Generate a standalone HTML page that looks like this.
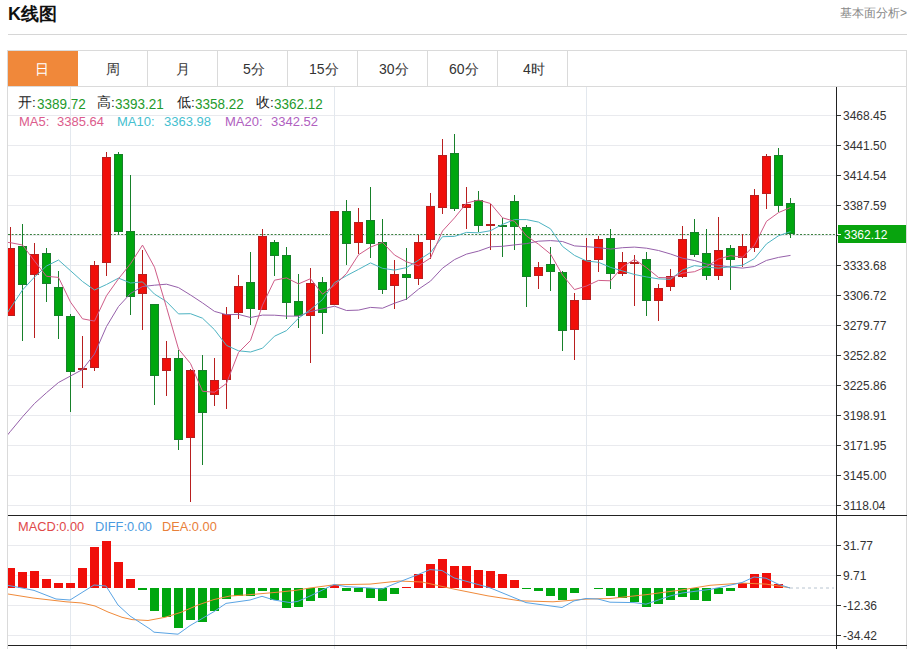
<!DOCTYPE html>
<html><head><meta charset="utf-8">
<style>
html,body{margin:0;padding:0;background:#fff;width:911px;height:649px;overflow:hidden;font-family:"Liberation Sans",sans-serif;}
.t{position:absolute;white-space:nowrap;line-height:1;}
</style></head><body>
<div class="t" style="left:8px;top:5px;font-size:18px;font-weight:bold;color:#111">K线图</div>
<div class="t" style="right:4px;top:7px;font-size:12px;color:#888">基本面分析&gt;</div>
<svg width="911" height="649" style="position:absolute;left:0;top:0" font-family="Liberation Sans, sans-serif">
<defs><clipPath id="cl"><rect x="8" y="87" width="828" height="428"/></clipPath><clipPath id="cl2"><rect x="8" y="516" width="828" height="129"/></clipPath></defs>
<rect x="8" y="34" width="899" height="1" fill="#d6d6d6"/>
<rect x="7.5" y="50.5" width="899" height="700" fill="none" stroke="#dadada"/>
<rect x="8" y="86" width="899" height="1" fill="#dadada"/>
<rect x="8" y="51" width="70" height="35" fill="#f0883a"/>
<g fill="#dadada"><rect x="147" y="51" width="1" height="35"/><rect x="217" y="51" width="1" height="35"/><rect x="287" y="51" width="1" height="35"/><rect x="357" y="51" width="1" height="35"/><rect x="427" y="51" width="1" height="35"/><rect x="497" y="51" width="1" height="35"/><rect x="567" y="51" width="1" height="35"/></g>
<line x1="8" y1="115.5" x2="836" y2="115.5" stroke="#e9eaee"/>
<line x1="8" y1="145.5" x2="836" y2="145.5" stroke="#e9eaee"/>
<line x1="8" y1="175.5" x2="836" y2="175.5" stroke="#e9eaee"/>
<line x1="8" y1="205.5" x2="836" y2="205.5" stroke="#e9eaee"/>
<line x1="8" y1="235.5" x2="836" y2="235.5" stroke="#e9eaee"/>
<line x1="8" y1="265.5" x2="836" y2="265.5" stroke="#e9eaee"/>
<line x1="8" y1="295.5" x2="836" y2="295.5" stroke="#e9eaee"/>
<line x1="8" y1="325.5" x2="836" y2="325.5" stroke="#e9eaee"/>
<line x1="8" y1="355.5" x2="836" y2="355.5" stroke="#e9eaee"/>
<line x1="8" y1="385.5" x2="836" y2="385.5" stroke="#e9eaee"/>
<line x1="8" y1="415.5" x2="836" y2="415.5" stroke="#e9eaee"/>
<line x1="8" y1="445.5" x2="836" y2="445.5" stroke="#e9eaee"/>
<line x1="8" y1="475.5" x2="836" y2="475.5" stroke="#e9eaee"/>
<line x1="8" y1="505.5" x2="836" y2="505.5" stroke="#e9eaee"/>
<line x1="8" y1="545.5" x2="836" y2="545.5" stroke="#e9eaee"/>
<line x1="8" y1="575.5" x2="836" y2="575.5" stroke="#e9eaee"/>
<line x1="8" y1="605.5" x2="836" y2="605.5" stroke="#e9eaee"/>
<line x1="8" y1="635.5" x2="836" y2="635.5" stroke="#e9eaee"/>
<line x1="70.5" y1="87" x2="70.5" y2="515" stroke="#e3e8ee"/>
<line x1="70.5" y1="516" x2="70.5" y2="649" stroke="#e3e8ee"/>
<line x1="334.5" y1="87" x2="334.5" y2="515" stroke="#e3e8ee"/>
<line x1="334.5" y1="516" x2="334.5" y2="649" stroke="#e3e8ee"/>
<line x1="586.5" y1="87" x2="586.5" y2="515" stroke="#e3e8ee"/>
<line x1="586.5" y1="516" x2="586.5" y2="649" stroke="#e3e8ee"/>
<line x1="8" y1="234.5" x2="836" y2="234.5" stroke="#3a7f3e" stroke-dasharray="2 1.65"/>
<g clip-path="url(#cl)"><rect x="10.0" y="227" width="1" height="89" fill="#b81f1f"/><rect x="6.5" y="248.5" width="8" height="67" fill="#f00f0a" stroke="#b81f1f" stroke-width="1"/><rect x="22.0" y="224" width="1" height="117" fill="#17802a"/><rect x="18.5" y="246.5" width="8" height="38" fill="#00a60f" stroke="#17802a" stroke-width="1"/><rect x="34.0" y="243" width="1" height="95" fill="#b81f1f"/><rect x="30.5" y="254.5" width="8" height="20" fill="#f00f0a" stroke="#b81f1f" stroke-width="1"/><rect x="46.0" y="248" width="1" height="54" fill="#17802a"/><rect x="42.5" y="253.5" width="8" height="30" fill="#00a60f" stroke="#17802a" stroke-width="1"/><rect x="58.0" y="271" width="1" height="68" fill="#17802a"/><rect x="54.5" y="287.5" width="8" height="28" fill="#00a60f" stroke="#17802a" stroke-width="1"/><rect x="70.0" y="314" width="1" height="98" fill="#17802a"/><rect x="66.5" y="316.5" width="8" height="55" fill="#00a60f" stroke="#17802a" stroke-width="1"/><rect x="82.0" y="336" width="1" height="52" fill="#b81f1f"/><rect x="78.5" y="368.5" width="8" height="1" fill="#f00f0a" stroke="#b81f1f" stroke-width="1"/><rect x="94.0" y="261" width="1" height="110" fill="#b81f1f"/><rect x="90.5" y="265.5" width="8" height="102" fill="#f00f0a" stroke="#b81f1f" stroke-width="1"/><rect x="106.0" y="152" width="1" height="124" fill="#b81f1f"/><rect x="102.5" y="157.5" width="8" height="105" fill="#f00f0a" stroke="#b81f1f" stroke-width="1"/><rect x="118.0" y="152" width="1" height="83" fill="#17802a"/><rect x="114.5" y="154.5" width="8" height="77" fill="#00a60f" stroke="#17802a" stroke-width="1"/><rect x="130.0" y="175" width="1" height="140" fill="#17802a"/><rect x="126.5" y="231.5" width="8" height="65" fill="#00a60f" stroke="#17802a" stroke-width="1"/><rect x="142.0" y="250" width="1" height="80" fill="#b81f1f"/><rect x="138.5" y="274.5" width="8" height="19" fill="#f00f0a" stroke="#b81f1f" stroke-width="1"/><rect x="154.0" y="304" width="1" height="101" fill="#17802a"/><rect x="150.5" y="304.5" width="8" height="71" fill="#00a60f" stroke="#17802a" stroke-width="1"/><rect x="166.0" y="341" width="1" height="55" fill="#b81f1f"/><rect x="162.5" y="358.5" width="8" height="12" fill="#f00f0a" stroke="#b81f1f" stroke-width="1"/><rect x="178.0" y="350" width="1" height="100" fill="#17802a"/><rect x="174.5" y="358.5" width="8" height="81" fill="#00a60f" stroke="#17802a" stroke-width="1"/><rect x="190.0" y="369" width="1" height="133" fill="#b81f1f"/><rect x="186.5" y="370.5" width="8" height="67" fill="#f00f0a" stroke="#b81f1f" stroke-width="1"/><rect x="202.0" y="355" width="1" height="110" fill="#17802a"/><rect x="198.5" y="370.5" width="8" height="42" fill="#00a60f" stroke="#17802a" stroke-width="1"/><rect x="214.0" y="358" width="1" height="48" fill="#b81f1f"/><rect x="210.5" y="380.5" width="8" height="14" fill="#f00f0a" stroke="#b81f1f" stroke-width="1"/><rect x="226.0" y="307" width="1" height="102" fill="#b81f1f"/><rect x="222.5" y="314.5" width="8" height="65" fill="#f00f0a" stroke="#b81f1f" stroke-width="1"/><rect x="238.0" y="275" width="1" height="44" fill="#b81f1f"/><rect x="234.5" y="286.5" width="8" height="26" fill="#f00f0a" stroke="#b81f1f" stroke-width="1"/><rect x="250.0" y="252" width="1" height="73" fill="#17802a"/><rect x="246.5" y="282.5" width="8" height="26" fill="#00a60f" stroke="#17802a" stroke-width="1"/><rect x="262.0" y="229" width="1" height="81" fill="#b81f1f"/><rect x="258.5" y="236.5" width="8" height="73" fill="#f00f0a" stroke="#b81f1f" stroke-width="1"/><rect x="274.0" y="240" width="1" height="36" fill="#17802a"/><rect x="270.5" y="242.5" width="8" height="13" fill="#00a60f" stroke="#17802a" stroke-width="1"/><rect x="286.0" y="247" width="1" height="72" fill="#17802a"/><rect x="282.5" y="255.5" width="8" height="47" fill="#00a60f" stroke="#17802a" stroke-width="1"/><rect x="298.0" y="274" width="1" height="54" fill="#17802a"/><rect x="294.5" y="301.5" width="8" height="14" fill="#00a60f" stroke="#17802a" stroke-width="1"/><rect x="310.0" y="268" width="1" height="95" fill="#b81f1f"/><rect x="306.5" y="283.5" width="8" height="32" fill="#f00f0a" stroke="#b81f1f" stroke-width="1"/><rect x="322.0" y="277" width="1" height="57" fill="#17802a"/><rect x="318.5" y="282.5" width="8" height="30" fill="#00a60f" stroke="#17802a" stroke-width="1"/><rect x="334.0" y="211" width="1" height="94" fill="#b81f1f"/><rect x="330.5" y="211.5" width="8" height="93" fill="#f00f0a" stroke="#b81f1f" stroke-width="1"/><rect x="346.0" y="200" width="1" height="65" fill="#17802a"/><rect x="342.5" y="211.5" width="8" height="32" fill="#00a60f" stroke="#17802a" stroke-width="1"/><rect x="358.0" y="208" width="1" height="46" fill="#b81f1f"/><rect x="354.5" y="222.5" width="8" height="20" fill="#f00f0a" stroke="#b81f1f" stroke-width="1"/><rect x="370.0" y="187" width="1" height="71" fill="#17802a"/><rect x="366.5" y="220.5" width="8" height="23" fill="#00a60f" stroke="#17802a" stroke-width="1"/><rect x="382.0" y="219" width="1" height="75" fill="#17802a"/><rect x="378.5" y="242.5" width="8" height="47" fill="#00a60f" stroke="#17802a" stroke-width="1"/><rect x="394.0" y="260" width="1" height="49" fill="#b81f1f"/><rect x="390.5" y="274.5" width="8" height="11" fill="#f00f0a" stroke="#b81f1f" stroke-width="1"/><rect x="406.0" y="248" width="1" height="52" fill="#17802a"/><rect x="402.5" y="274.5" width="8" height="3" fill="#00a60f" stroke="#17802a" stroke-width="1"/><rect x="418.0" y="235" width="1" height="50" fill="#b81f1f"/><rect x="414.5" y="242.5" width="8" height="36" fill="#f00f0a" stroke="#b81f1f" stroke-width="1"/><rect x="430.0" y="193" width="1" height="66" fill="#b81f1f"/><rect x="426.5" y="206.5" width="8" height="33" fill="#f00f0a" stroke="#b81f1f" stroke-width="1"/><rect x="442.0" y="139" width="1" height="75" fill="#b81f1f"/><rect x="438.5" y="155.5" width="8" height="52" fill="#f00f0a" stroke="#b81f1f" stroke-width="1"/><rect x="454.0" y="134" width="1" height="77" fill="#17802a"/><rect x="450.5" y="153.5" width="8" height="55" fill="#00a60f" stroke="#17802a" stroke-width="1"/><rect x="466.0" y="187" width="1" height="42" fill="#b81f1f"/><rect x="462.5" y="204.5" width="8" height="3" fill="#f00f0a" stroke="#b81f1f" stroke-width="1"/><rect x="478.0" y="191" width="1" height="41" fill="#17802a"/><rect x="474.5" y="200.5" width="8" height="25" fill="#00a60f" stroke="#17802a" stroke-width="1"/><rect x="490.0" y="204" width="1" height="46" fill="#b81f1f"/><rect x="486.5" y="224.5" width="8" height="1" fill="#f00f0a" stroke="#b81f1f" stroke-width="1"/><rect x="502.0" y="218" width="1" height="39" fill="#17802a"/><rect x="498.5" y="225.5" width="8" height="1" fill="#00a60f" stroke="#17802a" stroke-width="1"/><rect x="514.0" y="195" width="1" height="55" fill="#17802a"/><rect x="510.5" y="201.5" width="8" height="25" fill="#00a60f" stroke="#17802a" stroke-width="1"/><rect x="526.0" y="225" width="1" height="82" fill="#17802a"/><rect x="522.5" y="227.5" width="8" height="49" fill="#00a60f" stroke="#17802a" stroke-width="1"/><rect x="538.0" y="262" width="1" height="27" fill="#b81f1f"/><rect x="534.5" y="267.5" width="8" height="8" fill="#f00f0a" stroke="#b81f1f" stroke-width="1"/><rect x="550.0" y="247" width="1" height="44" fill="#17802a"/><rect x="546.5" y="264.5" width="8" height="7" fill="#00a60f" stroke="#17802a" stroke-width="1"/><rect x="562.0" y="271" width="1" height="80" fill="#17802a"/><rect x="558.5" y="272.5" width="8" height="58" fill="#00a60f" stroke="#17802a" stroke-width="1"/><rect x="574.0" y="293" width="1" height="67" fill="#b81f1f"/><rect x="570.5" y="300.5" width="8" height="29" fill="#f00f0a" stroke="#b81f1f" stroke-width="1"/><rect x="586.0" y="238" width="1" height="62" fill="#b81f1f"/><rect x="582.5" y="260.5" width="8" height="39" fill="#f00f0a" stroke="#b81f1f" stroke-width="1"/><rect x="598.0" y="236" width="1" height="36" fill="#b81f1f"/><rect x="594.5" y="239.5" width="8" height="20" fill="#f00f0a" stroke="#b81f1f" stroke-width="1"/><rect x="610.0" y="229" width="1" height="60" fill="#17802a"/><rect x="606.5" y="238.5" width="8" height="35" fill="#00a60f" stroke="#17802a" stroke-width="1"/><rect x="622.0" y="252" width="1" height="24" fill="#b81f1f"/><rect x="618.5" y="262.5" width="8" height="11" fill="#f00f0a" stroke="#b81f1f" stroke-width="1"/><rect x="634.0" y="255" width="1" height="51" fill="#b81f1f"/><rect x="630.5" y="262.5" width="8" height="1" fill="#f00f0a" stroke="#b81f1f" stroke-width="1"/><rect x="646.0" y="252" width="1" height="64" fill="#17802a"/><rect x="642.5" y="259.5" width="8" height="41" fill="#00a60f" stroke="#17802a" stroke-width="1"/><rect x="658.0" y="284" width="1" height="37" fill="#b81f1f"/><rect x="654.5" y="288.5" width="8" height="12" fill="#f00f0a" stroke="#b81f1f" stroke-width="1"/><rect x="670.0" y="269" width="1" height="22" fill="#b81f1f"/><rect x="666.5" y="276.5" width="8" height="10" fill="#f00f0a" stroke="#b81f1f" stroke-width="1"/><rect x="682.0" y="226" width="1" height="52" fill="#b81f1f"/><rect x="678.5" y="239.5" width="8" height="37" fill="#f00f0a" stroke="#b81f1f" stroke-width="1"/><rect x="694.0" y="219" width="1" height="38" fill="#17802a"/><rect x="690.5" y="232.5" width="8" height="22" fill="#00a60f" stroke="#17802a" stroke-width="1"/><rect x="706.0" y="229" width="1" height="51" fill="#17802a"/><rect x="702.5" y="253.5" width="8" height="22" fill="#00a60f" stroke="#17802a" stroke-width="1"/><rect x="718.0" y="217" width="1" height="63" fill="#b81f1f"/><rect x="714.5" y="250.5" width="8" height="25" fill="#f00f0a" stroke="#b81f1f" stroke-width="1"/><rect x="730.0" y="245" width="1" height="45" fill="#17802a"/><rect x="726.5" y="248.5" width="8" height="11" fill="#00a60f" stroke="#17802a" stroke-width="1"/><rect x="742.0" y="234" width="1" height="33" fill="#b81f1f"/><rect x="738.5" y="246.5" width="8" height="11" fill="#f00f0a" stroke="#b81f1f" stroke-width="1"/><rect x="754.0" y="189" width="1" height="63" fill="#b81f1f"/><rect x="750.5" y="195.5" width="8" height="52" fill="#f00f0a" stroke="#b81f1f" stroke-width="1"/><rect x="766.0" y="154" width="1" height="55" fill="#b81f1f"/><rect x="762.5" y="156.5" width="8" height="37" fill="#f00f0a" stroke="#b81f1f" stroke-width="1"/><rect x="778.0" y="148" width="1" height="64" fill="#17802a"/><rect x="774.5" y="155.5" width="8" height="50" fill="#00a60f" stroke="#17802a" stroke-width="1"/><rect x="790.0" y="198" width="1" height="40" fill="#17802a"/><rect x="786.5" y="203.5" width="8" height="30" fill="#00a60f" stroke="#17802a" stroke-width="1"/>
<polyline points="-1.5,446.0 10.5,431.3 22.5,416.8 34.5,403.5 46.5,392.7 58.5,382.5 70.5,376.0 82.5,369.5 94.5,354.0 106.5,326.5 118.5,306.5 130.5,293.5 142.5,286.5 154.5,285.2 166.5,284.2 178.5,287.6 190.5,295.0 202.5,302.9 214.5,311.4 226.5,314.7 238.5,314.4 250.5,317.5 262.5,315.1 274.5,315.2 286.5,316.1 298.5,316.1 310.5,311.6 322.5,308.9 334.5,306.2 346.5,310.5 358.5,310.1 370.5,307.4 382.5,308.2 394.5,303.2 406.5,299.1 418.5,289.2 430.5,281.1 442.5,268.2 454.5,259.6 466.5,254.1 478.5,251.1 490.5,246.8 502.5,246.3 514.5,244.9 526.5,243.6 538.5,241.2 550.5,240.6 562.5,241.5 574.5,245.9 586.5,246.7 598.5,247.6 610.5,249.1 622.5,247.7 634.5,247.1 646.5,248.2 658.5,250.5 670.5,254.0 682.5,258.2 694.5,260.5 706.5,264.1 718.5,265.3 730.5,267.1 742.5,268.1 754.5,266.5 766.5,260.4 778.5,257.4 790.5,255.4" fill="none" stroke="#9660aa" stroke-width="1"/>
<polyline points="-1.5,326.0 10.5,308.0 22.5,290.0 34.5,277.0 46.5,266.0 58.5,260.0 70.5,270.7 82.5,281.5 94.5,290.0 106.5,284.5 118.5,278.1 130.5,283.0 142.5,281.9 154.5,294.1 166.5,301.6 178.5,313.9 190.5,313.7 202.5,318.2 214.5,329.7 226.5,345.4 238.5,350.8 250.5,352.0 262.5,348.2 274.5,336.2 286.5,330.6 298.5,318.2 310.5,309.6 322.5,299.6 334.5,282.7 346.5,275.7 358.5,269.4 370.5,262.9 382.5,268.3 394.5,270.1 406.5,267.6 418.5,260.2 430.5,252.5 442.5,236.7 454.5,236.4 466.5,232.4 478.5,232.8 490.5,230.7 502.5,224.4 514.5,219.6 526.5,219.6 538.5,222.1 550.5,228.8 562.5,246.4 574.5,255.4 586.5,261.0 598.5,262.3 610.5,267.4 622.5,270.9 634.5,274.5 646.5,276.9 658.5,278.9 670.5,279.3 682.5,270.0 694.5,265.6 706.5,267.1 718.5,268.2 730.5,266.7 742.5,265.2 754.5,258.5 766.5,243.9 778.5,235.8 790.5,231.6" fill="none" stroke="#4db3c2" stroke-width="1"/>
<polyline points="-1.5,241.5 10.5,242.7 22.5,245.0 34.5,261.0 46.5,276.3 58.5,277.4 70.5,302.1 82.5,318.8 94.5,321.1 106.5,295.7 118.5,278.8 130.5,263.8 142.5,245.1 154.5,267.2 166.5,307.4 178.5,349.0 190.5,363.5 202.5,391.3 214.5,392.2 226.5,383.4 238.5,352.5 250.5,340.5 262.5,305.1 274.5,280.2 286.5,277.9 298.5,283.9 310.5,278.7 322.5,294.2 334.5,285.2 346.5,273.5 358.5,254.8 370.5,247.1 382.5,242.4 394.5,255.0 406.5,261.8 418.5,265.7 430.5,258.0 442.5,231.0 454.5,217.9 466.5,203.1 478.5,200.0 490.5,203.5 502.5,217.8 514.5,221.3 526.5,236.0 538.5,244.2 550.5,254.0 562.5,275.0 574.5,289.6 586.5,286.0 598.5,280.4 610.5,280.8 622.5,266.9 634.5,259.4 646.5,267.7 658.5,277.5 670.5,277.8 682.5,273.2 694.5,271.7 706.5,266.6 718.5,259.0 730.5,255.7 742.5,257.2 754.5,245.2 766.5,221.3 778.5,212.6 790.5,207.5" fill="none" stroke="#cf5c88" stroke-width="1"/>
</g>
<g clip-path="url(#cl2)" shape-rendering="crispEdges"><rect x="6.0" y="568" width="9" height="20" fill="#f00f0a"/><rect x="18.0" y="572" width="9" height="16" fill="#f00f0a"/><rect x="30.0" y="571" width="9" height="17" fill="#f00f0a"/><rect x="42.0" y="579" width="9" height="9" fill="#f00f0a"/><rect x="54.0" y="583" width="9" height="5" fill="#f00f0a"/><rect x="66.0" y="583" width="9" height="5" fill="#f00f0a"/><rect x="78.0" y="568" width="9" height="20" fill="#f00f0a"/><rect x="90.0" y="547" width="9" height="41" fill="#f00f0a"/><rect x="102.0" y="541" width="9" height="47" fill="#f00f0a"/><rect x="114.0" y="562" width="9" height="26" fill="#f00f0a"/><rect x="126.0" y="579" width="9" height="9" fill="#f00f0a"/><rect x="138.0" y="588" width="9" height="2" fill="#00a60f"/><rect x="150.0" y="588" width="9" height="23" fill="#00a60f"/><rect x="162.0" y="588" width="9" height="29" fill="#00a60f"/><rect x="174.0" y="588" width="9" height="40" fill="#00a60f"/><rect x="186.0" y="588" width="9" height="32" fill="#00a60f"/><rect x="198.0" y="588" width="9" height="34" fill="#00a60f"/><rect x="210.0" y="588" width="9" height="23" fill="#00a60f"/><rect x="222.0" y="588" width="9" height="11" fill="#00a60f"/><rect x="234.0" y="588" width="9" height="8" fill="#00a60f"/><rect x="246.0" y="588" width="9" height="8" fill="#00a60f"/><rect x="258.0" y="588" width="9" height="3" fill="#00a60f"/><rect x="270.0" y="588" width="9" height="12" fill="#00a60f"/><rect x="282.0" y="588" width="9" height="20" fill="#00a60f"/><rect x="294.0" y="588" width="9" height="19" fill="#00a60f"/><rect x="306.0" y="588" width="9" height="13" fill="#00a60f"/><rect x="318.0" y="588" width="9" height="10" fill="#00a60f"/><rect x="330.0" y="585" width="9" height="3" fill="#f00f0a"/><rect x="342.0" y="588" width="9" height="3" fill="#00a60f"/><rect x="354.0" y="588" width="9" height="4" fill="#00a60f"/><rect x="366.0" y="588" width="9" height="10" fill="#00a60f"/><rect x="378.0" y="588" width="9" height="13" fill="#00a60f"/><rect x="390.0" y="588" width="9" height="6" fill="#00a60f"/><rect x="402.0" y="587" width="9" height="1" fill="#f00f0a"/><rect x="414.0" y="574" width="9" height="14" fill="#f00f0a"/><rect x="426.0" y="564" width="9" height="24" fill="#f00f0a"/><rect x="438.0" y="559" width="9" height="29" fill="#f00f0a"/><rect x="450.0" y="566" width="9" height="22" fill="#f00f0a"/><rect x="462.0" y="566" width="9" height="22" fill="#f00f0a"/><rect x="474.0" y="570" width="9" height="18" fill="#f00f0a"/><rect x="486.0" y="571" width="9" height="17" fill="#f00f0a"/><rect x="498.0" y="574" width="9" height="14" fill="#f00f0a"/><rect x="510.0" y="580" width="9" height="8" fill="#f00f0a"/><rect x="522.0" y="588" width="9" height="1" fill="#00a60f"/><rect x="534.0" y="588" width="9" height="3" fill="#00a60f"/><rect x="546.0" y="588" width="9" height="8" fill="#00a60f"/><rect x="558.0" y="588" width="9" height="12" fill="#00a60f"/><rect x="570.0" y="588" width="9" height="5" fill="#00a60f"/><rect x="594.0" y="588" width="9" height="1" fill="#00a60f"/><rect x="606.0" y="588" width="9" height="8" fill="#00a60f"/><rect x="618.0" y="588" width="9" height="10" fill="#00a60f"/><rect x="630.0" y="588" width="9" height="14" fill="#00a60f"/><rect x="642.0" y="588" width="9" height="19" fill="#00a60f"/><rect x="654.0" y="588" width="9" height="16" fill="#00a60f"/><rect x="666.0" y="588" width="9" height="12" fill="#00a60f"/><rect x="678.0" y="588" width="9" height="9" fill="#00a60f"/><rect x="690.0" y="588" width="9" height="12" fill="#00a60f"/><rect x="702.0" y="588" width="9" height="13" fill="#00a60f"/><rect x="714.0" y="588" width="9" height="6" fill="#00a60f"/><rect x="726.0" y="588" width="9" height="3" fill="#00a60f"/><rect x="738.0" y="583" width="9" height="5" fill="#f00f0a"/><rect x="750.0" y="574" width="9" height="14" fill="#f00f0a"/><rect x="762.0" y="573" width="9" height="15" fill="#f00f0a"/><rect x="774.0" y="584" width="9" height="4" fill="#f00f0a"/></g>
<polyline points="8,594 33,598 66,601.8 82,603 95,606 108,612 122,617.3 132,619.6 148,620.5 165,617.3 181,612.3 198,605 214,599.5 230,596 247,594.9 263,593.5 280,592 296,590.3 310,588 334,584.8 370,584.1 399,581 422,582 455,589.3 488,595.9 520,600.8 553,601.8 586,599.1 610,598.5 646,594.7 682,589.9 710,585.3 742,583.1 766,584.1 790,587.8" fill="none" stroke="#f08a3a" stroke-width="1"/>
<polyline points="8,585.4 22,588 34,590.4 56,599 70,600 94,585 106,586 118,605 130,616 150,629 154,632.2 178,634.2 190,625.6 214,611.6 226,603.4 250,600 262,596.3 274,600 290,602.6 298,601.3 310,596 334,584.5 346,586.6 370,588 382,589 394,584 418,574.6 430,569.6 442,570.5 454,577.9 478,584.5 490,587.8 526,602.6 562,607.5 574,600.9 586,598.5 598,599 610,602.2 634,602.6 646,604.2 670,596 682,593 710,589.4 718,587.8 742,582.5 754,577 766,578.2 778,584.1 790,588" fill="none" stroke="#5aa4e4" stroke-width="1"/>
<line x1="790" y1="588" x2="834" y2="588" stroke="#b8c4d0" stroke-dasharray="3 3"/>
<rect x="837" y="115" width="4" height="1" fill="#333"/><text x="843" y="119.5" font-size="12" fill="#333">3468.45</text><rect x="837" y="145" width="4" height="1" fill="#333"/><text x="843" y="149.5" font-size="12" fill="#333">3441.50</text><rect x="837" y="175" width="4" height="1" fill="#333"/><text x="843" y="179.5" font-size="12" fill="#333">3414.54</text><rect x="837" y="205" width="4" height="1" fill="#333"/><text x="843" y="209.5" font-size="12" fill="#333">3387.59</text><rect x="837" y="235" width="4" height="1" fill="#333"/><rect x="837" y="265" width="4" height="1" fill="#333"/><text x="843" y="269.5" font-size="12" fill="#333">3333.68</text><rect x="837" y="295" width="4" height="1" fill="#333"/><text x="843" y="299.5" font-size="12" fill="#333">3306.72</text><rect x="837" y="325" width="4" height="1" fill="#333"/><text x="843" y="329.5" font-size="12" fill="#333">3279.77</text><rect x="837" y="355" width="4" height="1" fill="#333"/><text x="843" y="359.5" font-size="12" fill="#333">3252.82</text><rect x="837" y="385" width="4" height="1" fill="#333"/><text x="843" y="389.5" font-size="12" fill="#333">3225.86</text><rect x="837" y="415" width="4" height="1" fill="#333"/><text x="843" y="419.5" font-size="12" fill="#333">3198.91</text><rect x="837" y="445" width="4" height="1" fill="#333"/><text x="843" y="449.5" font-size="12" fill="#333">3171.95</text><rect x="837" y="475" width="4" height="1" fill="#333"/><text x="843" y="479.5" font-size="12" fill="#333">3145.00</text><rect x="837" y="505" width="4" height="1" fill="#333"/><text x="843" y="509.5" font-size="12" fill="#333">3118.04</text><rect x="837" y="545" width="4" height="1" fill="#333"/><text x="843" y="549.5" font-size="12" fill="#333">31.77</text><rect x="837" y="575" width="4" height="1" fill="#333"/><text x="843" y="579.5" font-size="12" fill="#333">9.71</text><rect x="837" y="605" width="4" height="1" fill="#333"/><text x="843" y="609.5" font-size="12" fill="#333">-12.36</text><rect x="837" y="635" width="4" height="1" fill="#333"/><text x="843" y="639.5" font-size="12" fill="#333">-34.42</text><rect x="838" y="225" width="68" height="18" fill="#08a40e"/><rect x="838" y="234" width="3" height="1" fill="#fff"/><text x="844" y="239" font-size="12" fill="#fff">3362.12</text>
<rect x="8" y="515" width="899" height="1" fill="#222"/>
<rect x="8" y="645" width="899" height="1" fill="#222"/>
<rect x="836" y="87" width="1" height="562" fill="#222"/>
</svg>

<div class="t" style="left:35px;top:62px;font-size:14px;color:#fff;width:14px">日</div>
<div class="t" style="left:106px;top:62px;font-size:14px;color:#333">周</div>
<div class="t" style="left:176px;top:62px;font-size:14px;color:#333">月</div>
<div class="t" style="left:243px;top:62px;font-size:14px;color:#333">5分</div>
<div class="t" style="left:309px;top:62px;font-size:14px;color:#333">15分</div>
<div class="t" style="left:379px;top:62px;font-size:14px;color:#333">30分</div>
<div class="t" style="left:449px;top:62px;font-size:14px;color:#333">60分</div>
<div class="t" style="left:523px;top:62px;font-size:14px;color:#333">4时</div>
<div class="t" style="left:18px;top:96px;font-size:13.5px;color:#222">开:</div><div class="t" style="left:37px;top:96px;font-size:13.5px;color:#1f9a2c;transform:scaleY(1.14);transform-origin:0 0">3389.72</div>
<div class="t" style="left:97px;top:96px;font-size:13.5px;color:#222">高:</div><div class="t" style="left:115px;top:96px;font-size:13.5px;color:#1f9a2c;transform:scaleY(1.14);transform-origin:0 0">3393.21</div>
<div class="t" style="left:177px;top:96px;font-size:13.5px;color:#222">低:</div><div class="t" style="left:195px;top:96px;font-size:13.5px;color:#1f9a2c;transform:scaleY(1.14);transform-origin:0 0">3358.22</div>
<div class="t" style="left:256px;top:96px;font-size:13.5px;color:#222">收:</div><div class="t" style="left:274px;top:96px;font-size:13.5px;color:#1f9a2c;transform:scaleY(1.14);transform-origin:0 0">3362.12</div>
<div class="t" style="left:19px;top:115px;font-size:13px;color:#dc5c8c">MA5:</div><div class="t" style="left:57px;top:115px;font-size:13px;color:#dc5c8c">3385.64</div>
<div class="t" style="left:117px;top:115px;font-size:13px;color:#45c0d0">MA10:</div><div class="t" style="left:164px;top:115px;font-size:13px;color:#45c0d0">3363.98</div>
<div class="t" style="left:225px;top:115px;font-size:13px;color:#b060c0">MA20:</div><div class="t" style="left:271px;top:115px;font-size:13px;color:#b060c0">3342.52</div>
<div class="t" style="left:18px;top:521px;font-size:12.8px;color:#e04848">MACD:0.00</div>
<div class="t" style="left:95px;top:521px;font-size:12.8px;color:#4a9ae0">DIFF:0.00</div>
<div class="t" style="left:162px;top:521px;font-size:12.8px;color:#e8803a">DEA:0.00</div>
</body></html>
